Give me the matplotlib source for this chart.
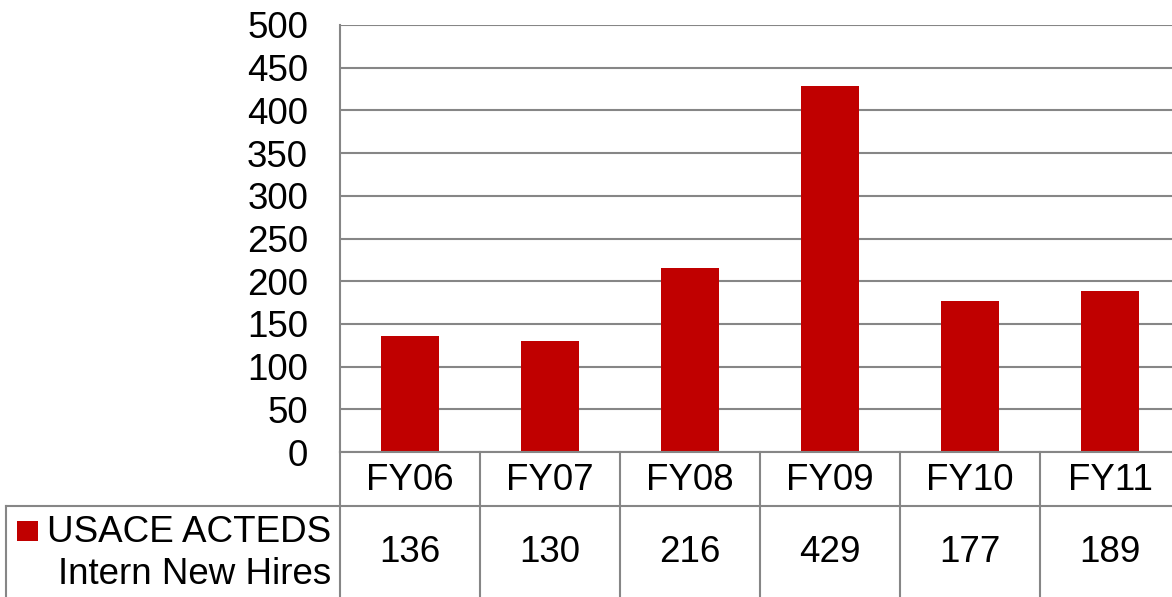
import matplotlib
matplotlib.use("Agg")
import matplotlib.pyplot as plt
from matplotlib.patches import Rectangle

categories = ["FY06", "FY07", "FY08", "FY09", "FY10", "FY11"]
values = [136, 130, 216, 429, 177, 189]
series_lines = ["USACE ACTEDS", "Intern New Hires"]

plt.rcParams['font.family'] = ['Liberation Sans', 'DejaVu Sans']
W, H = 1172, 597
fig = plt.figure(figsize=(W / 100, H / 100), dpi=100)
ax_left, ax_right, ax_top, ax_bot = 340, 1180, 25, 452
ax = fig.add_axes([ax_left / W, 1 - ax_bot / H, (ax_right - ax_left) / W, (ax_bot - ax_top) / H])

red = "#C00000"
grey = "#868686"
fs = 26.5
lw = 1.5

x = list(range(len(categories)))
ax.bar(x, values, width=0.41, color=red, zorder=3)
ax.set_xlim(-0.5, len(categories) - 0.5)
ax.set_ylim(0, 500)
ax.set_yticks(range(0, 501, 50))
ax.tick_params(axis='y', length=0, labelsize=fs, pad=23)
ax.tick_params(axis='x', length=0, labelbottom=False)
ax.yaxis.grid(True, color=grey, linewidth=lw, zorder=0)
for s in ['top', 'right', 'bottom']:
    ax.spines[s].set_visible(False)
ax.spines['left'].set_color(grey)
ax.spines['left'].set_linewidth(lw)

# Data table
axh = ax_bot - ax_top
px_unit = (ax_right - ax_left) / len(categories)
def yf(py):
    return (ax_bot - py) / axh
tr = ax.get_xaxis_transform()
y_axis = 0
y_mid = yf(506)
y_end = yf(H + 5)
x_leg = -0.5 - (ax_left - 6) / px_unit
kw = dict(color=grey, linewidth=lw, transform=tr, clip_on=False, zorder=4)
ax.plot([-0.5, len(categories) - 0.5], [y_axis, y_axis], **kw)
ax.plot([x_leg, len(categories) - 0.5], [y_mid, y_mid], **kw)
ax.plot([x_leg, x_leg], [y_mid, y_end], **kw)
for b in range(len(categories) + 1):
    ax.plot([b - 0.5, b - 0.5], [y_axis, y_end], **kw)

for i, (c, v) in enumerate(zip(categories, values)):
    ax.text(i, yf(480), c, ha='center', va='center', fontsize=fs, transform=tr, clip_on=False)
    ax.text(i, yf(553), str(v), ha='center', va='center', fontsize=fs, transform=tr, clip_on=False)

x_txt = -0.5 - (ax_left - 331) / px_unit
ax.text(x_txt, yf(532), series_lines[0], ha='right', va='center', fontsize=fs,
        transform=tr, clip_on=False)
ax.text(x_txt, yf(574), series_lines[1], ha='right', va='center', fontsize=fs,
        transform=tr, clip_on=False)
fig.patches.append(Rectangle((17 / W, 1 - 541 / H), 21 / W, 20 / H,
                             facecolor=red, edgecolor='none', transform=fig.transFigure))

fig.savefig("out.png", dpi=100)
